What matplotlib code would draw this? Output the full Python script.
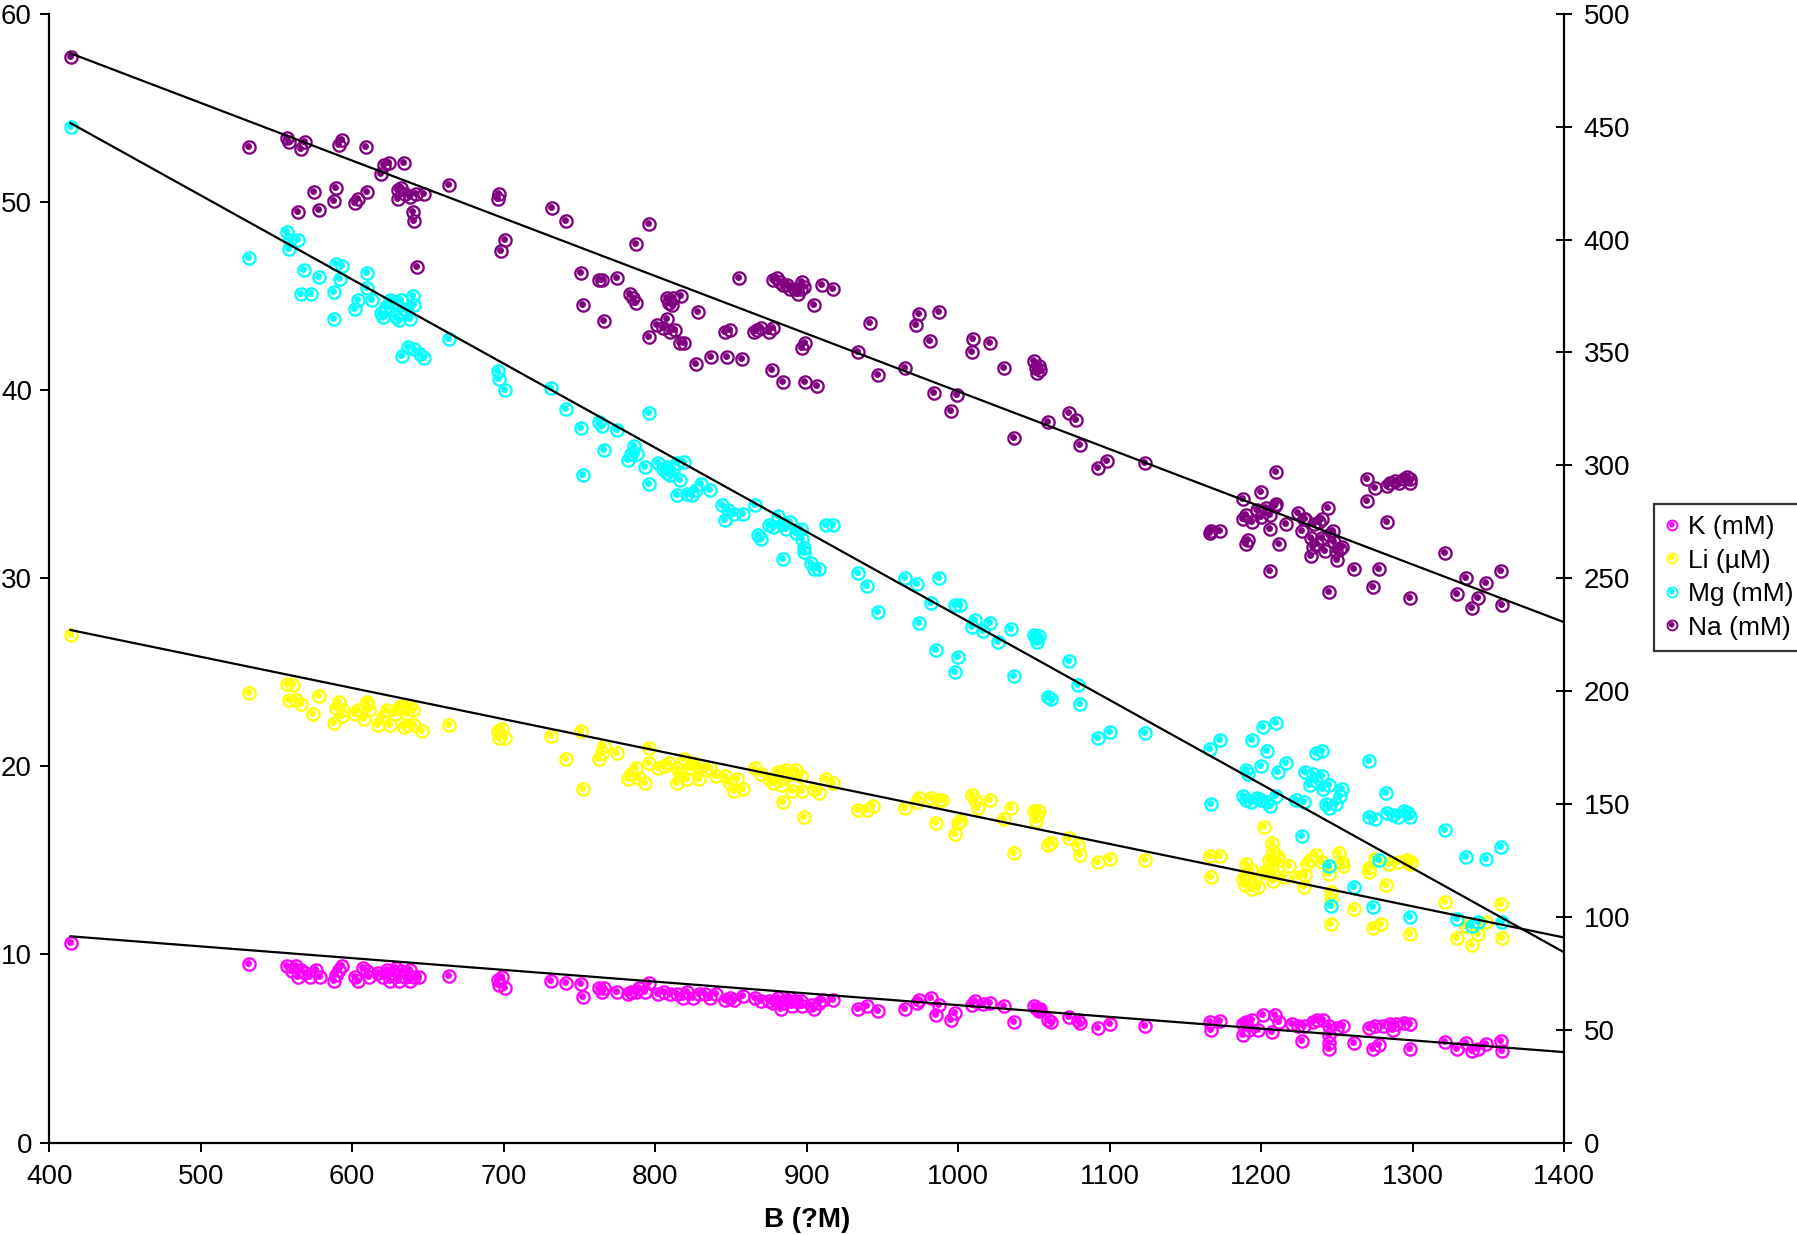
import numpy as np
import matplotlib
matplotlib.use("Agg")
import matplotlib.pyplot as plt
from matplotlib.path import Path
from matplotlib.lines import Line2D
from matplotlib import font_manager

# ---------------- data ----------------
K_x = [414, 532, 557, 560, 563, 566, 569, 564, 572, 576, 579, 588, 589, 591, 593, 602, 604, 607, 610, 611,
       617, 620, 623, 626, 629, 632, 635, 638, 641, 644, 625, 631, 638, 664, 696, 697, 699, 701, 731, 741,
       751, 752, 763, 765, 766, 775, 782, 784, 787, 789, 796, 793, 802, 806, 810, 814, 818, 821, 825, 829,
       833, 836, 840, 846, 849, 852, 858, 866, 870, 875, 878, 881, 884, 886, 889, 893, 896, 897, 883, 890,
       903, 905, 908, 911, 917, 934, 940, 947, 965, 973, 974, 982, 987, 985, 995, 998, 1009, 1011, 1016, 1021,
       1030, 1037, 1050, 1052, 1053, 1054, 1059, 1061, 1073, 1079, 1080, 1092, 1100, 1123, 1166, 1173, 1167, 1188,
       1190, 1194, 1201, 1209, 1212, 1220, 1192, 1198, 1207, 1188, 1224, 1228, 1227, 1234, 1237, 1241, 1245, 1250,
       1254, 1245, 1245, 1245, 1261, 1271, 1275, 1280, 1285, 1289, 1294, 1298, 1287, 1274, 1278, 1298, 1321, 1329,
       1335, 1339, 1343, 1348, 1358, 1359]
K_y = [10.6, 9.5, 9.4, 9.1, 9.4, 9.2, 9.0, 8.8, 8.8, 9.2, 8.8, 8.6, 8.9, 9.2, 9.4, 8.8, 8.6, 9.3, 9.1, 8.8,
       9.0, 8.8, 9.2, 8.95, 9.3, 9.1, 8.8, 9.2, 8.8, 8.8, 8.6, 8.6, 8.6, 8.85, 8.65, 8.4, 8.8, 8.2, 8.6, 8.5,
       8.45, 7.75, 8.2, 8.0, 8.2, 8.0, 7.9, 8.0, 8.0, 8.2, 8.5, 8.0, 7.9, 8.0, 7.9, 7.9, 7.7, 8.0, 7.7, 7.9,
       7.9, 7.7, 7.9, 7.6, 7.7, 7.6, 7.8, 7.7, 7.5, 7.55, 7.4, 7.7, 7.4, 7.6, 7.7, 7.55, 7.55, 7.25, 7.1, 7.25,
       7.3, 7.1, 7.4, 7.6, 7.6, 7.1, 7.25, 7.0, 7.1, 7.4, 7.6, 7.7, 7.3, 6.8, 6.5, 6.9, 7.3, 7.5, 7.35, 7.4,
       7.25, 6.4, 7.25, 7.1, 7.0, 7.1, 6.5, 6.4, 6.7, 6.5, 6.35, 6.1, 6.3, 6.2, 6.4, 6.45, 6.0, 6.3,
       6.4, 6.5, 6.8, 6.8, 6.4, 6.3, 6.0, 6.0, 5.9, 5.7, 6.2, 6.2, 5.4, 6.4, 6.5, 6.5, 6.2, 6.1,
       6.2, 5.7, 5.3, 5.0, 5.3, 6.1, 6.2, 6.2, 6.3, 6.3, 6.35, 6.3, 6.0, 5.0, 5.2, 5.0, 5.35, 5.0,
       5.3, 4.85, 5.0, 5.25, 5.4, 4.85]

Li_x = [414, 532, 557, 561, 558, 563, 566, 574, 578, 588, 589, 591, 593, 594, 602, 604, 610, 611, 608, 610,
        617, 620, 623, 628, 631, 632, 636, 638, 640, 634, 637, 641, 646, 625, 664, 696, 697, 699, 701, 731,
        741, 751, 752, 763, 765, 766, 775, 782, 784, 787, 789, 796, 796, 793, 802, 806, 809, 814, 816, 819,
        822, 825, 829, 833, 821, 814, 829, 836, 840, 846, 849, 852, 858, 854, 866, 870, 875, 878, 881, 884,
        886, 889, 893, 896, 883, 890, 897, 884, 898, 905, 908, 913, 917, 934, 940, 944, 965, 973, 974, 982,
        987, 989, 985, 998, 1000, 1001, 1009, 1011, 1013, 1021, 1030, 1037, 1035, 1050, 1052, 1053, 1051, 1059,
        1061, 1073, 1079, 1080, 1092, 1100, 1123, 1166, 1173, 1167, 1202, 1207, 1208, 1211, 1205, 1212, 1190, 1193,
        1190, 1188, 1189, 1196, 1194, 1198, 1202, 1207, 1208, 1208, 1215, 1218, 1225, 1229, 1228, 1232, 1236, 1230,
        1240, 1245, 1251, 1253, 1254, 1245, 1246, 1246, 1246, 1261, 1271, 1271, 1275, 1274, 1279, 1282, 1284, 1290,
        1296, 1298, 1299, 1298, 1321, 1329, 1335, 1339, 1343, 1348, 1358, 1359]
Li_y = [27.0, 23.9, 24.4, 24.3, 23.5, 23.5, 23.3, 22.8, 23.75, 22.3, 23.1, 23.4, 22.7, 23.0, 22.8, 23.0, 23.4, 23.0, 22.5, 23.3,
        22.2, 22.6, 23.0, 22.8, 23.1, 23.2, 22.8, 23.2, 23.0, 22.1, 22.2, 22.2, 21.9, 22.2, 22.2, 21.9, 21.5, 22.0, 21.5, 21.6,
        20.4, 21.9, 18.8, 20.4, 20.7, 21.1, 20.7, 19.3, 19.6, 19.9, 19.4, 21.0, 20.2, 19.1, 19.9, 20.0, 20.2, 19.9, 19.6, 20.4,
        19.9, 20.2, 20.0, 19.8, 19.3, 19.1, 19.3, 19.9, 19.5, 19.5, 19.1, 18.7, 18.8, 19.3, 19.9, 19.6, 19.3, 19.1, 19.7, 19.4,
        19.8, 19.6, 19.8, 19.5, 19.0, 18.7, 18.7, 18.1, 17.3, 18.8, 18.6, 19.3, 19.1, 17.7, 17.7, 17.9, 17.8, 18.1, 18.3, 18.3,
        18.2, 18.2, 17.0, 16.4, 17.0, 17.1, 18.45, 18.2, 17.8, 18.2, 17.2, 15.4, 17.8, 17.6, 17.4, 17.6, 17.1, 15.8,
        15.9, 16.2, 15.8, 15.3, 14.9, 15.1, 15.0, 15.25, 15.25, 14.1, 16.8, 15.9, 15.5, 15.2, 15.0, 15.0, 14.8, 14.5,
        14.3, 14.0, 13.7, 14.0, 13.5, 13.6, 14.4, 14.7, 14.2, 13.9, 14.1, 14.7, 14.1, 14.2, 13.6, 15.0, 15.3, 14.8,
        14.9, 14.7, 15.4, 14.9, 14.7, 14.3, 13.3, 12.9, 11.6, 12.4, 14.4, 14.6, 15.1, 11.4, 11.6, 13.7, 14.8, 14.9,
        15.0, 14.8, 14.9, 11.1, 12.8, 10.9, 11.5, 10.5, 11.1, 11.7, 12.7, 10.9]

Mg_x = [414, 532, 557, 559, 558, 564, 568, 566, 573, 578, 589, 588, 588, 592, 593, 602, 604, 610, 610, 613,
        619, 620, 622, 625, 626, 629, 632, 634, 629, 631, 636, 638, 640, 641, 633, 637, 641, 645, 647, 664,
        696, 697, 701, 731, 741, 751, 752, 763, 765, 766, 775, 782, 784, 786, 788, 796, 793, 796, 802, 805,
        807, 808, 810, 812, 814, 816, 819, 821, 824, 827, 830, 814, 836, 844, 846, 848, 852, 858, 866, 868,
        870, 875, 878, 881, 884, 886, 889, 893, 896, 897, 898, 898, 884, 903, 905, 908, 913, 917,
        934, 940, 947, 965, 973, 974, 982, 987, 985, 998, 1000, 998, 1001, 1009, 1011, 1016, 1021, 1026, 1035, 1037,
        1050, 1051, 1052, 1053, 1059, 1061, 1073, 1079, 1080, 1092, 1100, 1123, 1166, 1173, 1167, 1190, 1191, 1194,
        1201, 1210, 1204, 1200, 1211, 1216, 1188, 1190, 1193, 1197, 1200, 1204, 1206, 1210, 1223, 1228, 1227, 1229,
        1234, 1240, 1236, 1240, 1232, 1236, 1241, 1245, 1243, 1245, 1249, 1252, 1253, 1245, 1246, 1261, 1271, 1271,
        1275, 1278, 1274, 1282, 1283, 1287, 1290, 1294, 1297, 1298, 1298, 1321, 1329, 1335, 1339, 1343, 1348, 1358,
        1359]
Mg_y = [54.0, 47.0, 48.4, 48.0, 47.5, 48.0, 46.4, 45.1, 45.1, 46.0, 46.7, 45.2, 43.8, 45.9, 46.6, 44.3, 44.8, 46.2, 45.4, 44.8,
        44.1, 43.9, 44.4, 44.8, 44.6, 44.7, 44.8, 44.3, 43.9, 43.7, 44.2, 43.8, 45.0, 44.5, 41.8, 42.3, 42.2, 41.9, 41.7, 42.7,
        41.0, 40.6, 40.0, 40.1, 39.0, 38.0, 35.5, 38.3, 38.1, 36.8, 37.9, 36.3, 36.6, 37.0, 36.6, 38.8, 35.9, 35.0, 36.1, 35.8,
        35.9, 35.6, 35.5, 35.8, 36.1, 35.2, 36.2, 34.5, 34.4, 34.7, 35.0, 34.4, 34.7, 33.9, 33.1, 33.6, 33.4, 33.4, 33.9, 32.3,
        32.1, 32.8, 32.7, 33.3, 32.9, 32.6, 33.0, 32.4, 32.6, 32.1, 31.6, 31.4, 31.0, 30.8, 30.5, 30.5, 32.8, 32.8,
        30.3, 29.6, 28.2, 30.0, 29.7, 27.6, 28.7, 30.0, 26.2, 25.0, 25.8, 28.6, 28.6, 27.4, 27.8, 27.2, 27.6, 26.6, 27.3, 24.8,
        27.0, 26.8, 26.6, 26.9, 23.7, 23.6, 25.6, 24.3, 23.3, 21.5, 21.8, 21.75, 20.9, 21.4, 18.0, 19.8, 19.6, 21.4,
        22.1, 22.3, 20.8, 20.0, 19.7, 20.2, 18.4, 18.2, 18.1, 18.3, 18.2, 18.1, 17.9, 18.4, 18.2, 18.1, 16.3, 19.7,
        19.6, 19.5, 20.7, 20.8, 19.0, 19.2, 18.8, 19.0, 18.0, 17.8, 18.0, 18.4, 18.8, 14.7, 12.6, 13.6, 20.3, 17.3,
        17.2, 15.0, 12.5, 18.6, 17.5, 17.4, 17.3, 17.6, 17.5, 17.3, 12.0, 16.6, 11.9, 15.2, 11.5, 11.7, 15.1, 15.7,
        11.7]

Na_x = [414, 532, 557, 558, 566, 569, 564, 575, 578, 589, 588, 591, 593, 609, 602, 604, 610, 619, 621, 624,
        634, 630, 632, 630, 635, 638, 642, 640, 641, 643, 647, 664, 696, 697, 698, 701, 732, 741, 751, 752,
        763, 765, 766, 775, 787, 783, 785, 787, 796, 796, 801, 805, 808, 810, 813, 809, 811, 808, 812, 817,
        816, 819, 828, 827, 837, 847, 846, 849, 855, 857, 865, 867, 870, 877, 878, 880, 882, 884, 887, 889,
        892, 894, 896, 897, 898, 875, 878, 884, 897, 899, 899, 905, 907, 910, 917, 934, 942, 947, 965, 972,
        974, 981, 987, 984, 995, 999, 1009, 1010, 1021, 1030, 1037, 1050, 1051, 1052, 1053, 1054, 1059, 1073, 1078, 1080,
        1092, 1098, 1123, 1166, 1167, 1173, 1188, 1200, 1210, 1188, 1190, 1194, 1197, 1200, 1203, 1206, 1206, 1209,
        1210, 1216, 1190, 1191, 1212, 1206, 1224, 1228, 1229, 1227, 1235, 1238, 1240, 1244, 1233, 1234, 1237, 1240,
        1242, 1245, 1247, 1248, 1249, 1250, 1252, 1253, 1233, 1261, 1278, 1245, 1274, 1270, 1275, 1270, 1283, 1285,
        1288, 1291, 1294, 1296, 1298, 1298, 1283, 1298, 1321, 1335, 1348, 1358, 1329, 1343, 1339, 1359]
Na_y = [481, 441, 445, 443, 440, 443, 412, 421, 413, 423, 417, 442, 444, 441, 416, 418, 421, 429, 433, 434,
        434, 422, 423, 418, 420, 419, 420, 412, 408, 388, 420, 424, 418, 420, 395, 400, 414, 408, 385, 371,
        382, 382, 364, 383, 398, 376, 374, 372, 357, 407, 362, 361, 365, 359, 360, 372, 371, 374, 374, 375,
        354, 354, 368, 345, 348, 348, 359, 360, 383, 347, 359, 360, 361, 342, 382, 383, 381, 380, 380, 378,
        378, 376, 378, 381, 379, 359, 361, 337, 352, 354, 337, 371, 335, 380, 378, 350, 363, 340, 343, 362,
        367, 355, 368, 332, 324, 331, 350, 356, 354, 343, 312, 346, 343, 341, 344, 342, 319, 323, 320, 309,
        299, 302, 301, 270, 271, 271, 285, 288, 297, 276, 278, 275, 280, 277, 281, 278, 272, 282,
        283, 274, 265, 267, 265, 253, 279, 276, 276, 271, 274, 275, 276, 281, 268, 264, 265, 268,
        262, 269, 271, 266, 262, 258, 263, 264, 260, 254, 254, 244, 246, 294, 290, 284, 291, 292,
        293, 292, 294, 295, 294, 292, 275, 241, 261, 250, 248, 253, 243, 241, 237, 238]

# linear trendline coefficients (slope, intercept) as shown on the chart
trend_slope = [-0.006244, -0.01658, -0.04471, -0.2556]
trend_intercept = [13.55, 34.11, 72.70, 588.3]
trend_x_end = 1400

labels = ["K (mM)", "Li (\u00b5M)", "Mg (mM)", "Na (mM)"]
colors = ["#ff00ff", "#ffff00", "#00ffff", "#800080"]
x_ticks = list(range(400, 1401, 100))
left_ticks = list(range(0, 61, 10))
right_ticks = list(range(0, 501, 50))
x_label = "B (?M)"

# ---------------- style ----------------
def pick_family():
    names = {f.name for f in font_manager.fontManager.ttflist}
    fam = []
    for n in ["Liberation Sans Narrow", "Liberation Sans", "DejaVu Sans"]:
        if n in names:
            fam.append(n)
    return fam

tick_family = pick_family()
plt.rcParams["font.family"] = ["Liberation Sans", "DejaVu Sans"]

# bubble marker: outer ring + offset inner disc
def circle_pts(cx, cy, r, n=60, reverse=False):
    t = np.linspace(0, 2 * np.pi, n)
    if reverse:
        t = t[::-1]
    return np.column_stack([cx + r * np.cos(t), cy + r * np.sin(t)])

def bubble_marker():
    parts = [circle_pts(0, 0, 1.0), circle_pts(0, 0, 0.68, reverse=True), circle_pts(-0.13, 0.13, 0.47)]
    verts, codes = [], []
    for p in parts:
        verts.extend(p.tolist())
        c = [Path.LINETO] * len(p)
        c[0] = Path.MOVETO
        c[-1] = Path.CLOSEPOLY
        codes.extend(c)
    return Path(np.array(verts), codes)

MK = bubble_marker()

W, H = 1797, 1235
fig = plt.figure(figsize=(W / 100, H / 100), dpi=100)
L, R, T, B = 49.3, 1564.3, 13.75, 1142.6
ax = fig.add_axes([L / W, 1 - B / H, (R - L) / W, (B - T) / H])
ax2 = ax.twinx()

def series(axis, xs, ys, col, lab, k, b):
    xs = np.asarray(xs, float)
    ys = np.asarray(ys, float)
    axis.plot(xs, ys, linestyle="none", marker=MK, markersize=10.5, color=col,
              markeredgewidth=0, label=lab, zorder=3)
    xx = np.array([xs.min(), trend_x_end])
    axis.plot(xx, k * xx + b, color="black", lw=1.6, zorder=4)

all_x = [K_x, Li_x, Mg_x, Na_x]
all_y = [K_y, Li_y, Mg_y, Na_y]
axes_for = [ax, ax, ax, ax2]
for i in range(4):
    series(axes_for[i], all_x[i], all_y[i], colors[i], labels[i], trend_slope[i], trend_intercept[i])

ax.set_xlim(400, 1400)
ax.set_ylim(0, 60)
ax2.set_ylim(0, 500)
ax.set_xticks(x_ticks)
ax.set_yticks(left_ticks)
ax2.set_yticks(right_ticks)

for a in (ax, ax2):
    for s in a.spines.values():
        s.set_linewidth(1.6)
    a.spines["top"].set_visible(False)
    a.set_facecolor("none")

ax.spines["right"].set_visible(False)
ax2.spines["left"].set_visible(False)
ax2.spines["bottom"].set_visible(False)

ax.tick_params(axis="x", direction="out", length=6.5, width=1.4, pad=9)
ax.tick_params(axis="y", direction="out", length=6.5, width=1.4, pad=6)
ax2.tick_params(axis="y", direction="inout", length=12, width=1.4, pad=8)
for lab in ax.get_xticklabels() + ax.get_yticklabels() + ax2.get_yticklabels():
    lab.set_fontfamily(tick_family)
    lab.set_fontsize(20)

ax.set_xlabel(x_label, fontsize=20, fontweight="bold", family=tick_family, labelpad=12)

handles = [Line2D([], [], linestyle="none", marker=MK, markersize=8.5, color=c, markeredgewidth=0)
           for c in colors]
leg = fig.legend(handles, labels, loc="upper left",
                 bbox_to_anchor=(1654 / W, 1 - 504 / H), borderaxespad=0,
                 fontsize=19, frameon=True, fancybox=False, edgecolor="black",
                 handlelength=0.5, handletextpad=0.35, labelspacing=0.36,
                 borderpad=0.42, borderaxespad_=None) if False else fig.legend(
                 handles, labels, loc="upper left",
                 bbox_to_anchor=(1654 / W, 1 - 504 / H), borderaxespad=0,
                 fontsize=19, frameon=True, fancybox=False, edgecolor="black",
                 handlelength=0.5, handletextpad=0.35, labelspacing=0.36,
                 borderpad=0.42)
leg.get_frame().set_linewidth(1.6)

fig.savefig("out.png", dpi=100)
